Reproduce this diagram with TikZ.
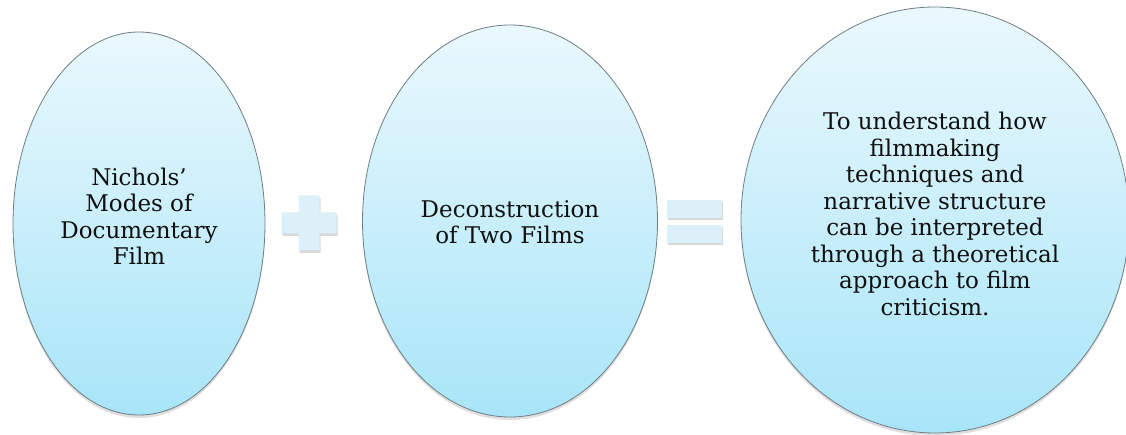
\documentclass[tikz,border=0pt]{standalone}
\usepackage{fontspec}
\setmainfont{DejaVu Serif}
\usetikzlibrary{shapes.geometric,shadows}
\definecolor{topblue}{HTML}{EAF8FD}
\definecolor{botblue}{HTML}{A8E5F8}
\definecolor{signblue}{HTML}{DCF0FA}
\definecolor{rimgray}{HTML}{6E7E84}
\definecolor{txt}{HTML}{101010}
\tikzset{
  oval/.style={ellipse, inner sep=0pt, draw=rimgray, line width=0.8pt,
    top color=topblue, bottom color=botblue,
    drop shadow={shadow xshift=0pt, shadow yshift=-3pt, opacity=0.25, fill=gray}},
  ovaltext/.style={text=txt, align=center, inner sep=0pt,
    font=\fontsize{23}{26.5}\selectfont},
  sign/.style={fill=signblue, draw=none,
    drop shadow={shadow xshift=1pt, shadow yshift=-2.5pt, opacity=0.3, fill=gray}}
}
\begin{document}
\begin{tikzpicture}[x=1pt,y=-1pt]
\useasboundingbox (0,0) rectangle (1126,435);
\fill[white] (0,0) rectangle (1126,435);
\clip (0,0) rectangle (1126,435);
\node[oval, minimum width=252pt, minimum height=383pt] (a) at (139,223.5) {};
\node[oval, minimum width=295pt, minimum height=392pt] (b) at (510,221) {};
\node[oval, minimum width=388pt, minimum height=426pt] (c) at (935,220) {};
\node[ovaltext] (at) at ([yshift=7pt]a.center) {Nichols'\\Modes of\\Documentary\\Film};
\node[ovaltext] (bt) at ([yshift=-1pt]b.center) {Deconstruction\\of Two Films};
\node[ovaltext] (ct) at ([yshift=6pt]c.center)
  {To understand how\\filmmaking\\techniques and\\narrative structure\\can be interpreted\\through a theoretical\\approach to film\\criticism.};
% plus sign
\path[sign] (298.5,195.5) -- (319.5,195.5) -- (319.5,212.5) -- (336.5,212.5)
  -- (336.5,233.5) -- (319.5,233.5) -- (319.5,250.5) -- (298.5,250.5)
  -- (298.5,233.5) -- (281.5,233.5) -- (281.5,212.5) -- (298.5,212.5) -- cycle;
% equals sign
\path[sign] (667,200) rectangle (722,218);
\path[sign] (667,225) rectangle (722,243);
\end{tikzpicture}
\end{document}
